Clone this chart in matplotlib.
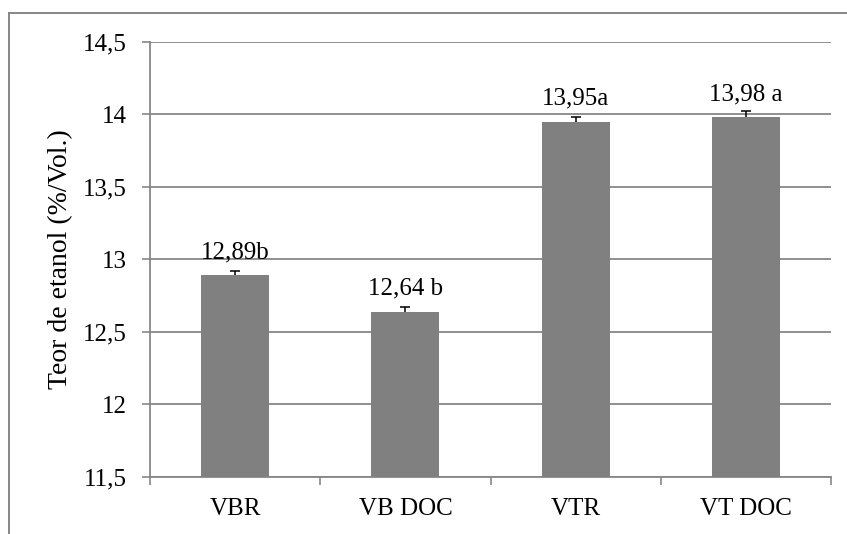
import matplotlib
matplotlib.use("Agg")
import matplotlib.pyplot as plt
from matplotlib.lines import Line2D

categories = ["VBR", "VB DOC", "VTR", "VT DOC"]
values = [12.89, 12.64, 13.95, 13.98]
errors = [0.03, 0.03, 0.03, 0.04]
labels = ["12,89b", "12,64 b", "13,95a", "13,98 a"]
yticks = [11.5, 12, 12.5, 13, 13.5, 14, 14.5]
ytick_labels = ["11,5", "12", "12,5", "13", "13,5", "14", "14,5"]

plt.rcParams['font.family'] = ['Liberation Serif', 'DejaVu Serif']
W, H = 847, 534
fig = plt.figure(figsize=(W / 100, H / 100), dpi=100)
ax = fig.add_axes([150 / W, 1 - 477 / H, (831 - 150) / W, (477 - 41.7) / H])

grid_c = "#878787"
fs = 18
x = list(range(len(categories)))
ax.bar(x, values, width=0.4, color="#808080", zorder=3)
eb = ax.errorbar(x, values, yerr=[[0] * len(errors), errors], fmt="none", ecolor="black",
                 elinewidth=1.1, capsize=3.6, capthick=1.1, zorder=4)
# Excel "plus" error bars: hide the lower caps
eb[1][0].set_visible(False)
for xi, v, lab in zip(x, values, labels):
    ax.annotate(lab, (xi, v), xytext=(0, 12), textcoords="offset points",
                ha="center", va="baseline", fontsize=fs)

ax.set_xlim(-0.5, len(categories) - 0.5)
ax.set_ylim(11.5, 14.5)
ax.set_yticks(yticks)
ax.set_yticklabels(ytick_labels, fontsize=fs)
ax.set_xticks(x)
ax.set_xticklabels(categories, fontsize=fs)
ax.tick_params(axis="x", which="major", length=0, pad=15)
ax.set_xticks([i - 0.5 for i in range(len(categories) + 1)], minor=True)
ax.tick_params(axis="x", which="minor", length=6, width=1.2, color=grid_c, direction="out")
ax.tick_params(axis="y", length=6, width=1.2, color=grid_c, direction="out", pad=11)

ax.yaxis.grid(True, color=grid_c, linewidth=1.3, zorder=0)
ax.set_axisbelow(True)
for s in ["top", "right"]:
    ax.spines[s].set_visible(False)
for s in ["left", "bottom"]:
    ax.spines[s].set_color(grid_c)
    ax.spines[s].set_linewidth(1.3)

ax.set_ylabel("Teor de etanol (%/Vol.)", fontsize=20, labelpad=7)

# outer chart-area border (left and top visible)
fig.add_artist(Line2D([9 / W, 9 / W], [0, 1 - 12.7 / H], transform=fig.transFigure,
                      color=grid_c, linewidth=1.4))
fig.add_artist(Line2D([9 / W, 1], [1 - 12.7 / H, 1 - 12.7 / H], transform=fig.transFigure,
                      color=grid_c, linewidth=1.4))

fig.savefig("out.png", dpi=100)
